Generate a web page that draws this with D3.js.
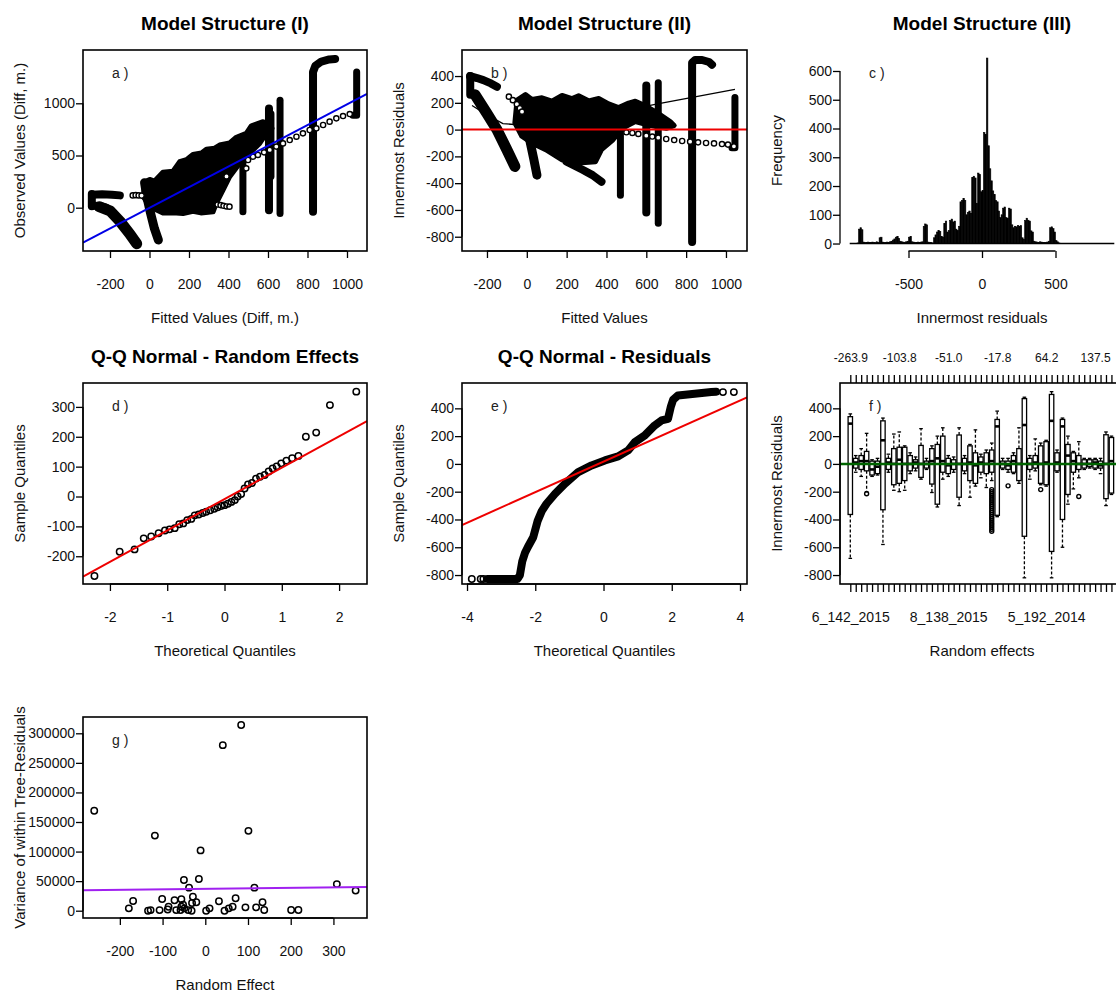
<!DOCTYPE html>
<html><head><meta charset="utf-8">
<script src="https://cdn.jsdelivr.net/npm/d3@7"></script>
<style>body{margin:0;background:#fff}</style>
</head><body>
<svg id="chart" width="1116" height="996"></svg>
<script>
// ---------------- DATA ----------------
// Panel a: Observed vs Fitted (dense trails of overlapping points read as polylines)
const aTicksX = [-200,0,200,400,600,800,1000];
const aTicksY = [0,500,1000];
const aCloud = [[-24,249],[1,270],[26,255],[68,340],[119,350],[153,440],[187,460],[220,510],[263,525],[288,560],[330,570],[355,600],[406,620],[440,675],[490,712],[516,785],[575,824],[600,800],[620,760],[588,700],[558,616],[507,521],[457,425],[406,297],[372,169],[338,42],[322,-40],[260,-50],[220,-35],[170,-55],[136,-50],[68,-50],[1,10],[-30,100]];
const aTrails = [
  [[-290,125],[-240,128],[-190,125],[-150,118]],
  [[-292,130],[-292,15]],
  [[-290,20],[-250,15],[-220,0]],
  [[-255,10],[-200,-30],[-150,-130],[-100,-250],[-65,-345]],
  [[-25,240],[-15,120],[5,-50],[25,-200],[45,-310]],
  [[473,455],[473,-40]],
  [[605,950],[605,-25]],
  [[615,900],[615,300]],
  [[661,1030],[661,-55]],
  [[828,-40],[828,1300],[840,1360],[870,1400],[910,1420],[940,1425]],
  [[1049,1300],[1049,885],[1030,885]]
];
const aTrailWidth = [8,8,8,11,9,7,8,7,7,8,7];
const aCircles = [[-85,118],[-70,120],[-55,118],[-40,116],[345,30],[360,25],[375,18],[390,12],[405,10],[390,300],[490,377],
  [499,457],[524,489],[549,505],[580,530],[609,553],[642,585],[676,616],[710,648],[744,680],[777,712],[811,744],[845,760],[879,792],[912,824],[946,856],[980,878],[1014,897]];
const aLine = {intercept:-1, slope:0.99};

// Panel b: Innermost residuals vs fitted
const bTicksX = [-200,0,200,400,600,800,1000];
const bTicksY = [-800,-600,-400,-200,0,200,400];
const bCloud = [[-49,221],[-7,262],[26,225],[76,238],[126,212],[177,255],[227,232],[260,252],[310,215],[361,232],[411,192],[461,165],[511,198],[545,212],[587,184],[650,130],[720,60],[740,30],[700,10],[620,30],[545,60],[480,10],[430,-80],[375,-150],[345,-240],[260,-250],[175,-225],[95,-150],[25,-100],[-25,-50],[-60,50]];
const bTrails = [
  [[-284,400],[-284,330],[-284,260]],
  [[-285,400],[-250,385],[-218,370],[-180,345],[-150,320]],
  [[-260,260],[-200,120],[-150,0],[-100,-150],[-60,-275]],
  [[-16,160],[-5,60],[15,-80],[35,-220],[51,-340]],
  [[200,-240],[280,-300],[330,-340],[375,-390]],
  [[470,60],[470,-490]],
  [[600,330],[600,-620]],
  [[660,350],[660,-700]],
  [[830,-840],[830,500],[845,520],[880,520],[915,505],[930,485]],
  [[1045,240],[1045,-135],[1030,-135]]
];
const bTrailWidth = [8,8,11,9,8,7,8,7,8,7];
const bCircles = [[-90,246],[-70,220],[-50,190],[-35,160],[-24,134],
  [500,-20],[530,-25],[560,-32],[600,-45],[630,-52],[660,-60],[700,-70],[740,-78],[780,-85],[820,-90],[860,-95],[900,-100],[940,-103],[980,-108],[1010,-112],[1040,-125]];
const bSmooth = [[-275,180],[-200,110],[-120,45],[0,30],[200,60],[400,110],[550,160],[670,196],[1045,300]];
const bZero = 0;

// Panel c: histogram of innermost residuals (bin width 10 from -900)
const cBreakStart = -900, cBinWidth = 10, cBreakEnd = 900;
const cCounts = [0,0,0,0,0,2,50,55,48,5, 3,4,5,3,4,5,3,4,6,4, 20,22,5,4,3,5,4,6,8,12, 16,22,25,18,8,6,5,4,6,8,
  22,25,6,5,4,4,5,4,5,6, 60,68,65,5,3,4,2,20,30,40, 45,42,25,22,70,78,40,45,80,85, 75,78,50,45,60,145,150,157,150,100,
  108,113,105,230,234,228,140,245,240,180, 185,386,380,645,340,260,218,183,170,150, 145,113,90,100,123,127,90,88,123,120,
  65,55,60,58,62,60,62,20,15,80, 88,81,78,44,40,8,6,5,4,6, 5,4,3,4,5,8,55,58,52,40, 10,6,2,0];
const cTicksX = [-500,0,500];
const cTicksY = [0,100,200,300,400,500,600];

// Panel d: QQ of random effects
const dPoints = [[-2.27,-266],[-1.83,-185],[-1.57,-177],[-1.41,-140],[-1.28,-134],[-1.15,-123],[-1.04,-114],[-0.96,-110],[-0.87,-106],[-0.79,-93],[-0.72,-90],[-0.65,-79],[-0.58,-75],[-0.52,-63],[-0.45,-60],[-0.38,-55],[-0.32,-51],[-0.25,-46],[-0.18,-41],[-0.12,-36],[-0.06,-32],[0.0,-29],[0.06,-24],[0.12,-18],[0.18,-12],[0.23,0],[0.29,8],[0.35,27],[0.41,40],[0.48,45],[0.55,60],[0.62,66],[0.70,72],[0.77,84],[0.84,94],[0.91,101],[0.99,111],[1.08,120],[1.18,128],[1.29,136],[1.42,200],[1.6,214],[1.84,306],[2.3,351]];
const dLine = {intercept:-8.6, slope:105};
const dTicksX = [-2,-1,0,1,2];
const dTicksY = [-200,-100,0,100,200,300];

// Panel e: QQ of residuals
const eCurve = [[-3.4,-828],[-2.52,-828],[-2.45,-800],[-2.38,-700],[-2.3,-640],[-2.22,-600],[-2.06,-528],[-1.93,-410],[-1.81,-340],[-1.67,-287],[-1.42,-215],[-1.13,-143],[-0.74,-59],[-0.35,-11],[0.04,25],[0.43,54],[0.72,97],[0.92,157],[1.21,205],[1.5,277],[1.7,313],[1.89,325],[1.97,409],[2.04,462],[2.18,493],[2.67,505],[3.16,517],[3.3,520]];
const eCircles = [[-3.86,-828],[-3.6,-828],[-3.52,-828],[3.5,517],[3.82,517]];
const eLine = {intercept:16.5, slope:110};
const eTicksX = [-4,-2,0,2,4];
const eTicksY = [-800,-600,-400,-200,0,200,400];

// Panel f: boxplots of residuals per random effect (index 1..49)
const fLo  = [-680,-60,-90,-200,-90,-80,-580,-60,-190,-200,-190,-70,-50,-110,-40,-206,-310,-110,-90,-60,-300,-70,-240,-160,-100,-170,-120,-380,-40,-60,-70,-140,-820,-110,-50,-150,-160,-820,-60,-600,-290,-180,-100,-40,-30,-40,-70,-300,-220];
const fQ1  = [-364,-30,-40,-50,-80,-70,-330,-40,-150,-140,-120,-50,-30,-97,-30,-145,-290,-60,-70,-40,-240,-50,-120,-140,-60,-70,-60,-370,-30,-40,-60,-120,-521,-40,-30,-140,-150,-630,-50,-400,-220,-60,-40,-30,-20,-30,-30,-250,-210];
const fMed = [290,10,20,20,-40,-20,170,10,0,30,0,0,10,0,0,20,40,20,-10,0,0,0,10,-10,10,0,20,270,0,-10,20,0,280,0,10,0,10,310,10,270,60,20,0,0,0,10,-10,0,20];
const fQ3  = [340,40,60,90,20,20,310,40,110,120,120,60,30,133,20,110,140,200,40,30,208,40,130,80,50,80,100,320,20,20,60,110,470,40,60,130,160,500,80,320,140,80,60,30,30,30,20,210,190];
const fHi  = [360,60,110,220,30,40,330,70,215,230,130,80,50,254,40,130,200,260,60,50,260,60,140,245,70,100,150,380,40,40,80,260,480,60,180,150,170,520,100,330,200,90,160,40,40,40,40,230,200];
const fOutliers = [[4,-215],[30,-158],[36,-185],[43,-235],
  [27,-185],[27,-200],[27,-215],[27,-230],[27,-245],[27,-260],[27,-275],[27,-290],[27,-305],[27,-320],[27,-335],[27,-350],[27,-365],[27,-380],[27,-395],[27,-410],[27,-425],[27,-440],[27,-455],[27,-470],[27,-485]];
const fTopIdx = [1,10,19,28,37,46];
const fTopLabels = ["-263.9","-103.8","-51.0","-17.8","64.2","137.5"];
const fBotIdx = [1,19,37];
const fBotLabels = ["6_142_2015","8_138_2015","5_192_2014"];
const fTicksY = [-800,-600,-400,-200,0,200,400];

// Panel g: variance of within-tree residuals vs random effect
const gPoints = [[-260,169000],[-118,127000],[-11,102000],[41,280000],[84,314000],[101,135000],[-50,52000],[-15,53600],[-38,39000],[115,39000],[308,45000],[352,34000],[-169,16400],[-179,4000],[-101,19800],[-72,17600],[-56,19300],[-29,23700],[-21,14200],[-31,13000],[32,15900],[71,21000],[64,6800],[55,4000],[94,5700],[119,5700],[134,14200],[138,1200],[201,1200],[218,1200],[-134,0],[-128,1000],[-107,1000],[-88,2000],[-86,6800],[-68,1000],[-58,1000],[-49,4000],[-40,1000],[-32,0],[-56,6800],[2,0],[10,4000],[45,0],[-52,10000]];
const gLine = [[-286,34500],[378,40000]];
const gTicksX = [-200,-100,0,100,200,300];
const gTicksY = [0,50000,100000,150000,200000,250000,300000];

// ---------------- DRAWING ----------------
const FONT = '"Liberation Sans", Arial, Helvetica, sans-serif';
const svg = d3.select("#chart");
const cols = [[83,367],[462,747],[840,1124]];
const rows = [[50,251],[383,584],[717,918]];
let clipId = 0;

function panel(c, r, xd, yd, opt) {
  const [x0,x1] = cols[c], [y0,y1] = rows[r];
  const x = d3.scaleLinear().domain(xd).range([x0,x1]);
  const y = d3.scaleLinear().domain(yd).range([y1,y0]);
  const g = svg.append("g");
  const id = "clip"+(clipId++);
  svg.append("clipPath").attr("id",id).append("rect")
    .attr("x",x0).attr("y",y0).attr("width",Math.min(x1,1116)-x0).attr("height",y1-y0);
  const plot = g.append("g").attr("clip-path",`url(#${id})`);
  const cx = (x0+x1)/2, cy = (y0+y1)/2;
  if (opt.title) g.append("text").attr("x",cx).attr("y",y0-20).attr("text-anchor","middle")
      .attr("font-family",FONT).attr("font-size",19).attr("font-weight","bold").attr("fill","#000").text(opt.title);
  g.append("text").attr("x",cx).attr("y",y1+72).attr("text-anchor","middle")
      .attr("font-family",FONT).attr("font-size",15).attr("fill","#111").text(opt.xlab);
  g.append("text").attr("transform",`translate(${x0-58},${cy}) rotate(-90)`).attr("text-anchor","middle")
      .attr("font-family",FONT).attr("font-size",15).attr("fill","#111").text(opt.ylab);
  g.append("text").attr("x",x0+29).attr("y",y0+28).attr("font-family",FONT).attr("font-size",14)
      .attr("fill","#222").text(opt.tag);
  return {g, plot, x, y, x0, x1, y0, y1};
}

function styleAxis(a, size) {
  a.attr("font-family",FONT).attr("font-size",size).attr("color","#111");
  a.select(".domain").remove();
  a.selectAll(".tick line").attr("stroke","#000").attr("stroke-width",1.3);
}
function axisBottom(P, ticks, yPos) {
  const a = P.g.append("g").attr("transform",`translate(0,${yPos})`)
    .call(d3.axisBottom(P.x).tickValues(ticks).tickSize(7).tickPadding(21).tickFormat(d=>String(d)));
  styleAxis(a, 14);
  a.append("line").attr("x1",P.x(ticks[0])).attr("x2",P.x(ticks[ticks.length-1])).attr("stroke","#000").attr("stroke-width",1.3);
  return a;
}
function axisLeft(P, ticks, xPos) {
  const a = P.g.append("g").attr("transform",`translate(${xPos},0)`)
    .call(d3.axisLeft(P.y).tickValues(ticks).tickSize(7).tickPadding(1).tickFormat(d=>String(d)));
  styleAxis(a, 14);
  a.append("line").attr("y1",P.y(ticks[0])).attr("y2",P.y(ticks[ticks.length-1])).attr("stroke","#000").attr("stroke-width",1.3);
  return a;
}
function box(P) {
  P.g.append("rect").attr("x",P.x0).attr("y",P.y0).attr("width",P.x1-P.x0).attr("height",P.y1-P.y0)
    .attr("fill","none").attr("stroke","#000").attr("stroke-width",1.6);
}
function drawCloud(P, poly, trails, widths, circles) {
  const line = d3.line().x(d=>P.x(d[0])).y(d=>P.y(d[1]));
  P.plot.append("path").attr("d", line.curve(d3.curveLinearClosed)(poly))
    .attr("fill","#000").attr("stroke","#000").attr("stroke-width",5).attr("stroke-linejoin","round");
  const l2 = d3.line().x(d=>P.x(d[0])).y(d=>P.y(d[1]));
  P.plot.selectAll(null).data(trails).join("path").attr("d",d=>l2(d)).attr("fill","none")
    .attr("stroke","#000").attr("stroke-width",(d,i)=>widths[i]).attr("stroke-linecap","round").attr("stroke-linejoin","round");
  P.plot.selectAll(null).data(circles).join("circle").attr("cx",d=>P.x(d[0])).attr("cy",d=>P.y(d[1]))
    .attr("r",2.6).attr("fill","#fff").attr("stroke","#000").attr("stroke-width",1.4);
}
function abline(P, coef, color, w) {
  const xd = P.x.domain();
  P.plot.append("line").attr("x1",P.x(xd[0])).attr("y1",P.y(coef.intercept+coef.slope*xd[0]))
    .attr("x2",P.x(xd[1])).attr("y2",P.y(coef.intercept+coef.slope*xd[1])).attr("stroke",color).attr("stroke-width",w);
}

// ---- Panel a
const A = panel(0,0,[-336.7,1101.3],[-414.8,1510.5],{title:"Model Structure (I)",xlab:"Fitted Values (Diff, m.)",ylab:"Observed Values (Diff, m.)",tag:"a )"});
drawCloud(A, aCloud, aTrails, aTrailWidth, aCircles);
abline(A, aLine, "#0000e6", 2);
axisBottom(A, aTicksX, A.y1); axisLeft(A, aTicksY, A.x0); box(A);

// ---- Panel b
const B = panel(1,0,[-325.4,1105.6],[-906.6,594.5],{title:"Model Structure (II)",xlab:"Fitted Values",ylab:"Innermost Residuals",tag:"b )"});
drawCloud(B, bCloud, bTrails, bTrailWidth, bCircles);
B.plot.append("path").attr("d", d3.line().x(d=>B.x(d[0])).y(d=>B.y(d[1]))(bSmooth)).attr("fill","none").attr("stroke","#000").attr("stroke-width",1.3);
abline(B, {intercept:bZero, slope:0}, "#ee0000", 2);
axisBottom(B, bTicksX, B.y1); axisLeft(B, bTicksY, B.x0); box(B);

// ---- Panel c
const C = panel(2,0,[-966,966],[-26,673],{title:"Model Structure (III)",xlab:"Innermost residuals",ylab:"Frequency",tag:"c )"});
C.plot.selectAll(null).data(cCounts).join("rect")
  .attr("x",(d,i)=>C.x(cBreakStart+i*cBinWidth)).attr("width",C.x(cBinWidth)-C.x(0))
  .attr("y",d=>C.y(d)).attr("height",d=>C.y(0)-C.y(d))
  .attr("fill","#000").attr("stroke","#000").attr("stroke-width",0.6);
C.plot.append("line").attr("x1",C.x(cBreakStart)).attr("x2",C.x(cBreakEnd)).attr("y1",C.y(0)).attr("y2",C.y(0)).attr("stroke","#000").attr("stroke-width",1.6);
axisBottom(C, cTicksX, C.y1); axisLeft(C, cTicksY, C.x0);

// ---- Panel d
const D = panel(0,1,[-2.47,2.487],[-292.9,380],{title:"Q-Q Normal - Random Effects",xlab:"Theoretical Quantiles",ylab:"Sample Quantiles",tag:"d )"});
D.plot.selectAll(null).data(dPoints).join("circle").attr("cx",d=>D.x(d[0])).attr("cy",d=>D.y(d[1]))
  .attr("r",3.2).attr("fill","none").attr("stroke","#000").attr("stroke-width",1.5);
abline(D, dLine, "#ee0000", 2);
axisBottom(D, dTicksX, D.y1); axisLeft(D, dTicksY, D.x0); box(D);

// ---- Panel e
const E = panel(1,1,[-4.147,4.205],[-864.5,582.4],{title:"Q-Q Normal - Residuals",xlab:"Theoretical Quantiles",ylab:"Sample Quantiles",tag:"e )"});
E.plot.append("path").attr("d", d3.line().x(d=>E.x(d[0])).y(d=>E.y(d[1]))(eCurve)).attr("fill","none")
  .attr("stroke","#000").attr("stroke-width",8).attr("stroke-linecap","round").attr("stroke-linejoin","round");
E.plot.selectAll(null).data(eCircles).join("circle").attr("cx",d=>E.x(d[0])).attr("cy",d=>E.y(d[1]))
  .attr("r",3.2).attr("fill","none").attr("stroke","#000").attr("stroke-width",1.5);
abline(E, eLine, "#ee0000", 2);
axisBottom(E, eTicksX, E.y1); axisLeft(E, eTicksY, E.x0); box(E);

// ---- Panel f
const F = panel(2,1,[-0.893,51.31],[-864.5,582.4],{title:null,xlab:"Random effects",ylab:"Innermost Residuals",tag:"f )"});
const fIdx = d3.range(1, fMed.length+1);
const bw = 4.4;
const fb = F.plot.selectAll(null).data(fIdx).join("g");
fb.append("line").attr("x1",i=>F.x(i)).attr("x2",i=>F.x(i)).attr("y1",i=>F.y(fQ3[i-1])).attr("y2",i=>F.y(fHi[i-1]))
  .attr("stroke","#000").attr("stroke-width",1.3).attr("stroke-dasharray","3,2");
fb.append("line").attr("x1",i=>F.x(i)).attr("x2",i=>F.x(i)).attr("y1",i=>F.y(fQ1[i-1])).attr("y2",i=>F.y(fLo[i-1]))
  .attr("stroke","#000").attr("stroke-width",1.3).attr("stroke-dasharray","3,2");
fb.append("line").attr("x1",i=>F.x(i)-1.8).attr("x2",i=>F.x(i)+1.8).attr("y1",i=>F.y(fHi[i-1])).attr("y2",i=>F.y(fHi[i-1])).attr("stroke","#000").attr("stroke-width",1.3);
fb.append("line").attr("x1",i=>F.x(i)-1.8).attr("x2",i=>F.x(i)+1.8).attr("y1",i=>F.y(fLo[i-1])).attr("y2",i=>F.y(fLo[i-1])).attr("stroke","#000").attr("stroke-width",1.3);
fb.append("rect").attr("x",i=>F.x(i)-bw/2).attr("width",bw).attr("y",i=>F.y(fQ3[i-1])).attr("height",i=>F.y(fQ1[i-1])-F.y(fQ3[i-1]))
  .attr("fill","#fff").attr("stroke","#000").attr("stroke-width",1.3);
fb.append("line").attr("x1",i=>F.x(i)-bw/2).attr("x2",i=>F.x(i)+bw/2).attr("y1",i=>F.y(fMed[i-1])).attr("y2",i=>F.y(fMed[i-1])).attr("stroke","#000").attr("stroke-width",2.6);
F.plot.selectAll(null).data(fOutliers).join("circle").attr("cx",d=>F.x(d[0])).attr("cy",d=>F.y(d[1]))
  .attr("r",2).attr("fill","none").attr("stroke","#000").attr("stroke-width",1.4);
abline(F, {intercept:0, slope:0}, "#006400", 2.5);
axisLeft(F, fTicksY, F.x0);
{
  const topMap = new Map(fTopIdx.map((k,j)=>[k,fTopLabels[j]]));
  const botMap = new Map(fBotIdx.map((k,j)=>[k,fBotLabels[j]]));
  const at = F.g.append("g").attr("transform",`translate(0,${F.y0})`)
    .call(d3.axisTop(F.x).tickValues(fIdx).tickSize(8).tickPadding(13).tickFormat(i=>topMap.get(i)||""));
  styleAxis(at, 12);
  const ab = F.g.append("g").attr("transform",`translate(0,${F.y1})`)
    .call(d3.axisBottom(F.x).tickValues(fIdx).tickSize(8).tickPadding(20).tickFormat(i=>botMap.get(i)||""));
  styleAxis(ab, 14);
}
box(F);

// ---- Panel g
const G = panel(0,2,[-286.3,378.6],[-12345,327565],{title:null,xlab:"Random Effect",ylab:"Variance of within Tree-Residuals",tag:"g )"});
G.plot.selectAll(null).data(gPoints).join("circle").attr("cx",d=>G.x(d[0])).attr("cy",d=>G.y(d[1]))
  .attr("r",3.2).attr("fill","none").attr("stroke","#000").attr("stroke-width",1.5);
G.plot.append("path").attr("d", d3.line().x(d=>G.x(d[0])).y(d=>G.y(d[1]))(gLine)).attr("stroke","#a020f0").attr("stroke-width",2).attr("fill","none");
axisBottom(G, gTicksX, G.y1); axisLeft(G, gTicksY, G.x0); box(G);
</script>
</body></html>
